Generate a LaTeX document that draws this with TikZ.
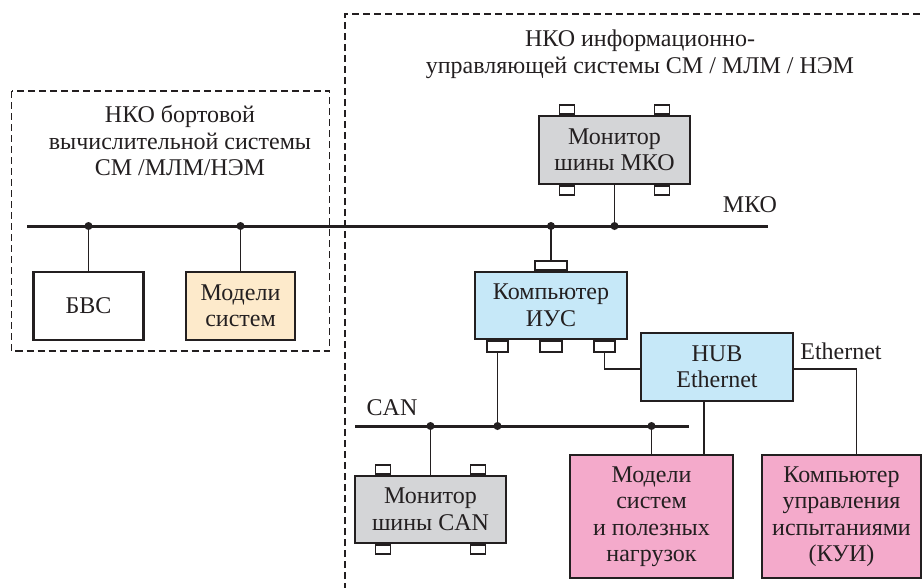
\documentclass[tikz,border=0pt]{standalone}
\usepackage{fontspec}
\setmainfont{Liberation Serif}
\definecolor{grayb}{HTML}{D4D5D7}
\definecolor{blueb}{HTML}{C6E8F8}
\definecolor{creamb}{HTML}{FDEACB}
\definecolor{pinkb}{HTML}{F4AACB}
\definecolor{ink}{HTML}{231F20}
\begin{document}
\begin{tikzpicture}[x=1pt,y=-1pt,
  box/.style={draw=ink, line width=2.1pt, align=center, inner sep=0pt, text=ink,
    font=\fontsize{24}{26.5}\selectfont},
  tab/.style={draw=ink, fill=white, line width=1.6pt, inner sep=0pt,
    minimum width=15pt, minimum height=9pt},
  lbl/.style={text=ink, align=center, inner sep=0pt, font=\fontsize{24}{26.5}\selectfont},
  bus/.style={draw=ink, line width=3pt},
  wire/.style={draw=ink, line width=1.9pt},
  frame/.style={draw=ink, dash pattern=on 7pt off 4pt, line width=1.2pt},
  dot/.style={circle, fill=ink, inner sep=0pt, minimum size=8pt}]
\useasboundingbox (0,0) rectangle (922,587);

% dashed frames
\draw[frame] (11.5,91) rectangle (329.5,351);
\draw[frame] (345,590) -- (345,14) -- (925,14);

% titles
\node[lbl] (t1) at (180,141) {НКО бортовой\\вычислительной системы\\СМ /МЛМ/НЭМ};
\node[lbl, font=\fontsize{24}{27}\selectfont] (t2) at (640,54) {НКО информационно-\\управляющей системы СМ / МЛМ / НЭМ};

% boxes
\node[box, fill=white, minimum width=110pt, minimum height=68pt] (bvs) at (88.5,306) {БВС};
\node[box, fill=creamb, minimum width=109pt, minimum height=68pt] (mod) at (240.5,306) {Модели\\систем};
\node[box, fill=grayb, minimum width=151pt, minimum height=68pt] (monmko) at (614.5,150) {Монитор\\шины МКО};
\node[box, fill=blueb, minimum width=152pt, minimum height=67pt] (ius) at (551,305.5) {Компьютер\\ИУС};
\node[box, fill=blueb, minimum width=152pt, minimum height=68pt] (hub) at (717,367) {HUB\\Ethernet};
\node[box, fill=grayb, minimum width=151pt, minimum height=67pt] (moncan) at (430.5,509.5) {Монитор\\шины CAN};
\node[box, fill=pinkb, minimum width=163pt, minimum height=123pt] (mps) at (651.5,516.5) {Модели\\систем\\и полезных\\нагрузок};
\node[box, fill=pinkb, minimum width=159pt, minimum height=123pt] (kui) at (841.5,516.5) {Компьютер\\управления\\испытаниями\\(КУИ)};

% tabs
\node[tab, anchor=south] (mt1) at ([xshift=-47.5pt]monmko.north) {};
\node[tab, anchor=south] (mt2) at ([xshift=47.5pt]monmko.north) {};
\node[tab, anchor=north] (mb1) at ([xshift=-47.5pt]monmko.south) {};
\node[tab, anchor=north] (mb2) at ([xshift=47.5pt]monmko.south) {};
\node[tab, anchor=south] (ct1) at ([xshift=-47.5pt]moncan.north) {};
\node[tab, anchor=south] (ct2) at ([xshift=47.5pt]moncan.north) {};
\node[tab, anchor=north] (cb1) at ([xshift=-47.5pt]moncan.south) {};
\node[tab, anchor=north] (cb2) at ([xshift=47.5pt]moncan.south) {};
\node[tab, anchor=south, minimum width=31.5pt] (iust) at (ius.north) {};
\node[tab, anchor=north, minimum width=21.5pt, minimum height=11pt] (iusb1) at ([xshift=-53.5pt]ius.south) {};
\node[tab, anchor=north, minimum width=21.5pt, minimum height=11pt] (iusb2) at (ius.south) {};
\node[tab, anchor=north, minimum width=21.5pt, minimum height=11pt] (iusb3) at ([xshift=53.5pt]ius.south) {};

% MKO bus
\coordinate (mkoL) at (27,226);
\coordinate (mkoR) at (768,226);
\draw[bus] (mkoL) -- (mkoR);
\node[lbl] (mko) at (750,205) {МКО};
\node[dot] (m1) at (88.5,226) {};
\node[dot] (m2) at (240.5,226) {};
\node[dot] (m3) at (551,226) {};
\node[dot] (m4) at (614.5,226) {};
\draw[wire] (m1.center) -- (bvs.north);
\draw[wire] (m2.center) -- (mod.north);
\draw[wire] (m3.center) -- (iust.north);
\draw[wire] (m4.center) -- (monmko.south);

% CAN bus
\coordinate (canL) at (355,426);
\coordinate (canR) at (689,426);
\draw[bus] (canL) -- (canR);
\node[lbl] (can) at (392,408) {CAN};
\node[dot] (c1) at (430.5,426) {};
\node[dot] (c2) at (497.5,426) {};
\node[dot] (c3) at (651.5,426) {};
\draw[wire] (c1.center) -- (moncan.north);
\draw[wire] (iusb1.south) -- (c2.center);
\draw[wire] (c3.center) -- (mps.north);

% Ethernet
\node[lbl] (eth) at (841,351) {Ethernet};
\coordinate (hx) at (704,0);
\coordinate (ex) at (856.5,0);
\draw[wire] (iusb3.south) |- ([yshift=-2pt]hub.west);
\draw[wire] (hx |- hub.south) -- (hx |- mps.north);
\draw[wire] ([yshift=-2pt]hub.east) -| (ex |- kui.north);
\end{tikzpicture}
\end{document}
